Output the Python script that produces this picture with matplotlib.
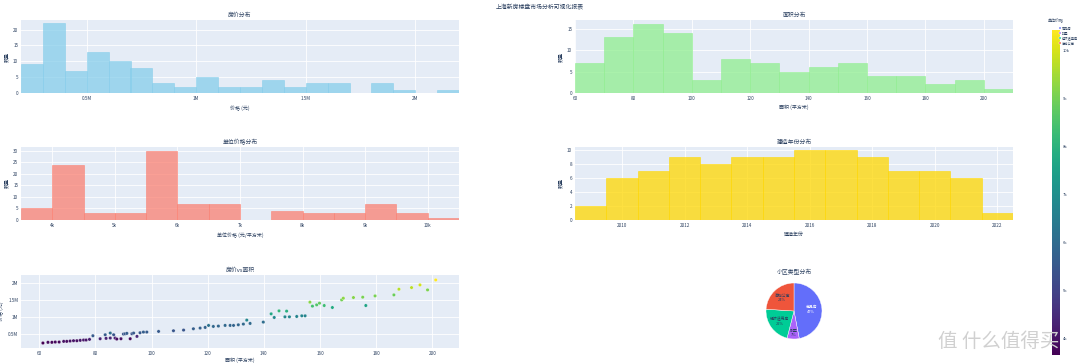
import numpy as np
import matplotlib.pyplot as plt
from matplotlib.ticker import FuncFormatter

plt.rcParams['font.family'] = ['Noto Sans CJK SC', 'DejaVu Sans']
plt.rcParams['axes.unicode_minus'] = False

# ---- data ----
price_bins = [0.2, 0.3, 0.4, 0.5, 0.6, 0.7, 0.8, 0.9, 1.0, 1.1, 1.2,
              1.3, 1.4, 1.5, 1.6, 1.7, 1.8, 1.9, 2.0, 2.1, 2.2]          # 百万元
price_counts = [9, 22, 7, 13, 10, 8, 3, 2, 5, 2, 2, 4, 2, 3, 3, 0, 3, 1, 0, 1]

area_bins = [60, 70, 80, 90, 100, 110, 120, 130, 140, 150, 160, 170, 180, 190, 200, 210]
area_counts = [7, 13, 16, 14, 3, 8, 7, 5, 6, 7, 4, 4, 2, 3, 1]

unit_bins = [3.5, 4.0, 4.5, 5.0, 5.5, 6.0, 6.5, 7.0, 7.5, 8.0, 8.5, 9.0, 9.5, 10.0, 10.5]  # 千元/平方米
unit_counts = [5, 24, 3, 3, 30, 7, 7, 0, 4, 3, 3, 7, 3, 1]

year_bins = [2008.5, 2009.5, 2010.5, 2011.5, 2012.5, 2013.5, 2014.5, 2015.5,
             2016.5, 2017.5, 2018.5, 2019.5, 2020.5, 2021.5, 2022.5]
year_counts = [2, 6, 7, 9, 8, 9, 9, 10, 10, 9, 7, 7, 6, 1]

sc_area = [61.3, 63.1, 64.5, 65.7, 67.1, 68.7, 69.8, 71.0, 72.2, 73.4, 74.6, 75.8, 76.7,
           77.9, 79.1, 81.7, 83.5, 83.8, 85.3, 85.3, 86.5, 87.0, 87.6, 89.1, 90.0, 90.6,
           91.2, 92.4, 93.0, 93.6, 94.8, 95.9, 97.1, 98.3, 102.5, 107.8, 111.4, 114.9,
           117.3, 119.1, 120.3, 122.0, 123.8, 126.2, 128.0, 129.2, 130.9, 132.7, 133.9,
           135.1, 139.8, 142.6, 143.7, 145.4, 147.5, 148.1, 149.1, 151.7, 153.5, 154.7,
           156.4, 157.3, 158.8, 159.8, 161.5, 164.4, 167.7, 168.3, 171.9, 175.2, 176.3,
           179.6, 186.3, 188.1, 192.6, 195.6, 198.3, 201.2]
sc_price = [0.224, 0.244, 0.244, 0.253, 0.253, 0.273, 0.273, 0.283, 0.293, 0.293, 0.303,
            0.313, 0.313, 0.332, 0.441, 0.352, 0.470, 0.362, 0.520, 0.372, 0.470, 0.372,
            0.342, 0.352, 0.490, 0.500, 0.510, 0.352, 0.500, 0.520, 0.421, 0.530, 0.549,
            0.549, 0.569, 0.589, 0.608, 0.648, 0.668, 0.687, 0.747, 0.717, 0.727, 0.747,
            0.747, 0.747, 0.766, 0.786, 0.904, 0.806, 0.845, 1.092, 0.983, 1.180, 1.003,
            1.171, 1.003, 1.013, 1.033, 1.033, 1.437, 1.319, 1.358, 1.407, 1.338, 1.279,
            1.506, 1.555, 1.575, 1.585, 1.338, 1.624, 1.654, 1.822, 1.871, 1.950, 1.802,
            2.098]

pie_labels = ['商品房', '别墅', '经济适用房', '高档公寓']
pie_values = [47, 7, 22, 24]
pie_colors = ['#636EFA', '#AB63FA', '#00CC96', '#EF553B']
pie_text_colors = ['white', '#2a3f5f', '#2a3f5f', '#2a3f5f']

# ---- figure ----
W, H = 1080, 363
fig = plt.figure(figsize=(W / 100, H / 100), dpi=100)
BG = '#E5ECF6'
TXT = '#2a3f5f'
FS_T = 4.2
FS_K = 3.3

fig.text(0.5, 0.988, '上海新房楼盘市场分析可视化报表', ha='center', va='top', fontsize=FS_T, color=TXT)


def style(ax, title, xlabel, ylabel, xpad=3):
    ax.set_facecolor(BG)
    for s in ax.spines.values():
        s.set_visible(False)
    ax.grid(True, color='white', linewidth=0.6)
    ax.set_axisbelow(True)
    ax.tick_params(length=0, labelsize=FS_K, colors=TXT, pad=2)
    ax.set_title(title, fontsize=FS_T, color=TXT, pad=2)
    ax.set_xlabel(xlabel, fontsize=FS_K + 0.3, color=TXT, labelpad=xpad)
    ax.set_ylabel(ylabel, fontsize=FS_K + 0.3, color=TXT, labelpad=3)


def hist(ax, bins, counts, color):
    ax.bar(bins[:-1], counts, width=np.diff(bins), align='edge', color=color,
           alpha=0.75, edgecolor=color, linewidth=0.5)
    ax.set_xlim(bins[0], bins[-1])


col_x = [21 / W, 575 / W]
col_w = 438 / W
row_y = [(20, 93), (147, 220), (275, 348)]


def pos(r, c):
    t, b = row_y[r]
    return [col_x[c], 1 - b / H, col_w, (b - t) / H]


mfmt = FuncFormatter(lambda v, p: f'{v:g}M')
kfmt = FuncFormatter(lambda v, p: f'{v:g}k')

ax1 = fig.add_axes(pos(0, 0))
hist(ax1, price_bins, price_counts, 'skyblue')
ax1.set_ylim(0, 23)
ax1.set_xticks([0.5, 1.0, 1.5, 2.0])
ax1.xaxis.set_major_formatter(mfmt)
ax1.set_yticks([0, 5, 10, 15, 20])
style(ax1, '房价分布', '价格 (元)', '数量')

ax2 = fig.add_axes(pos(0, 1))
hist(ax2, area_bins, area_counts, 'lightgreen')
ax2.set_ylim(0, 17)
ax2.set_xticks([60, 80, 100, 120, 140, 160, 180, 200])
ax2.set_yticks([0, 5, 10, 15])
style(ax2, '面积分布', '面积 (平方米)', '数量')

ax3 = fig.add_axes(pos(1, 0))
hist(ax3, unit_bins, unit_counts, 'salmon')
ax3.set_ylim(0, 31.6)
ax3.set_xticks([4, 5, 6, 7, 8, 9, 10])
ax3.xaxis.set_major_formatter(kfmt)
ax3.set_yticks([0, 5, 10, 15, 20, 25, 30])
style(ax3, '单位价格分布', '单位价格 (元/平方米)', '数量')

ax4 = fig.add_axes(pos(1, 1))
hist(ax4, year_bins, year_counts, 'gold')
ax4.set_ylim(0, 10.5)
ax4.set_xticks([2010, 2012, 2014, 2016, 2018, 2020, 2022])
ax4.set_yticks([0, 2, 4, 6, 8, 10])
style(ax4, '建造年份分布', '建造年份', '数量')

ax5 = fig.add_axes(pos(2, 0))
unit_price = np.array(sc_price) / np.array(sc_area) * 1000
sc = ax5.scatter(sc_area, sc_price, c=unit_price, cmap='viridis', s=6,
                 edgecolors='white', linewidths=0.2, zorder=3)
ax5.set_xlim(53.5, 209.5)
ax5.set_ylim(0.076, 2.245)
ax5.set_xticks([60, 80, 100, 120, 140, 160, 180, 200])
ax5.set_yticks([0.5, 1.0, 1.5, 2.0])
ax5.yaxis.set_major_formatter(mfmt)
style(ax5, '房价vs面积', '面积 (平方米)', '价格 (元)', xpad=1)

# colorbar
cax = fig.add_axes([1052 / W, 1 - 355 / H, 8 / W, 325 / H])
cb = fig.colorbar(sc, cax=cax)
cb.outline.set_visible(False)
cb.set_ticks([4, 5, 6, 7, 8, 9, 10])
cb.ax.yaxis.set_major_formatter(kfmt)
cb.ax.tick_params(length=0, labelsize=FS_K - 0.3, colors=TXT, pad=2)
fig.text(1048 / W, 1 - 23 / H, '单位价格', fontsize=FS_K - 0.4, color=TXT, va='bottom')

# pie
ax6 = fig.add_axes([759 / W, 1 - 346 / H, 70 / W, 70 / H])
wedges, _ = ax6.pie(pie_values, colors=pie_colors, startangle=90, counterclock=False,
                    wedgeprops=dict(edgecolor='white', linewidth=0.3))
for w, lab, v, tc in zip(wedges, pie_labels, pie_values, pie_text_colors):
    ang = np.deg2rad((w.theta1 + w.theta2) / 2)
    r = 0.62 if v > 10 else 0.78
    ax6.text(r * np.cos(ang), r * np.sin(ang), f'{lab}\n{v}%', ha='center', va='center',
             fontsize=FS_K - 0.5, color=tc, linespacing=1.1)
ax6.set_aspect('equal')
ax6.set_title('小区类型分布', fontsize=FS_T, color=TXT, pad=1)

fig.legend(wedges, pie_labels, loc='upper left', bbox_to_anchor=(1057 / W, 1 - 25 / H),
           fontsize=FS_K - 1.0, frameon=False, handlelength=0.7, handleheight=0.6,
           labelspacing=0.3, borderpad=0, handletextpad=0.2, labelcolor=TXT)

fig.text(0.925, 0.03, '值 什么值得买', fontsize=14, color='#d0d0d0', ha='center', va='bottom')

plt.savefig('out.png', dpi=100)
